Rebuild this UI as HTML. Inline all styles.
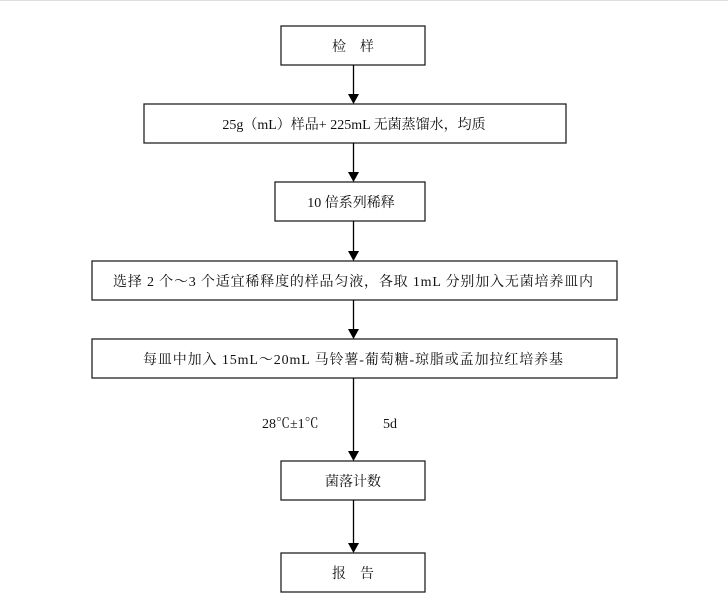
<!DOCTYPE html>
<html><head><meta charset="utf-8"><style>
body{margin:0;background:#fff;}
svg text{font-family:"Liberation Serif","Noto Serif CJK SC",serif;font-size:14px;fill:#111;}
</style></head><body>
<svg width="728" height="610" viewBox="0 0 728 610" xmlns="http://www.w3.org/2000/svg">
<defs><marker id="a" markerWidth="10" markerHeight="10" refX="9" refY="5" orient="auto" markerUnits="userSpaceOnUse"><path d="M0,0 L10,5 L0,10 z" fill="#000" transform="rotate(0)"/></marker></defs>
<rect x="0" y="0" width="728" height="1" fill="#ddd"/>
<g fill="none" stroke="#222" stroke-width="1.3">
<rect x="281" y="26" width="144" height="39"/>
<rect x="144" y="104" width="422" height="39"/>
<rect x="275" y="182" width="150" height="39"/>
<rect x="92" y="261" width="525" height="39"/>
<rect x="92" y="339" width="525" height="39"/>
<rect x="281" y="461" width="144" height="39"/>
<rect x="281" y="553" width="144" height="39"/>
</g>
<g stroke="#000" stroke-width="1.3">
<line x1="353.5" y1="65" x2="353.5" y2="94"/>
<line x1="353.5" y1="143" x2="353.5" y2="172"/>
<line x1="353.5" y1="221" x2="353.5" y2="251"/>
<line x1="353.5" y1="300" x2="353.5" y2="329"/>
<line x1="353.5" y1="378" x2="353.5" y2="451"/>
<line x1="353.5" y1="500" x2="353.5" y2="543"/>
</g>
<g fill="#000">
<path d="M348,94 L359,94 L353.5,104 z"/>
<path d="M348,172 L359,172 L353.5,182 z"/>
<path d="M348,251 L359,251 L353.5,261 z"/>
<path d="M348,329 L359,329 L353.5,339 z"/>
<path d="M348,451 L359,451 L353.5,461 z"/>
<path d="M348,543 L359,543 L353.5,553 z"/>
</g>
<text x="353" y="51" text-anchor="middle">检　样</text>
<text x="354" y="129" text-anchor="middle">25g（mL）样品+ 225mL 无菌蒸馏水，均质</text>
<text x="351" y="207" text-anchor="middle">10 倍系列稀释</text>
<text x="353" y="286" text-anchor="middle" textLength="480">选择 2 个～3 个适宜稀释度的样品匀液，各取 1mL 分别加入无菌培养皿内</text>
<text x="353" y="364" text-anchor="middle" textLength="420">每皿中加入 15mL～20mL 马铃薯-葡萄糖-琼脂或孟加拉红培养基</text>
<text x="262" y="428">28℃±1℃</text>
<text x="383" y="428">5d</text>
<text x="353" y="486" text-anchor="middle">菌落计数</text>
<text x="353" y="578" text-anchor="middle">报　告</text>
</svg>
</body></html>
